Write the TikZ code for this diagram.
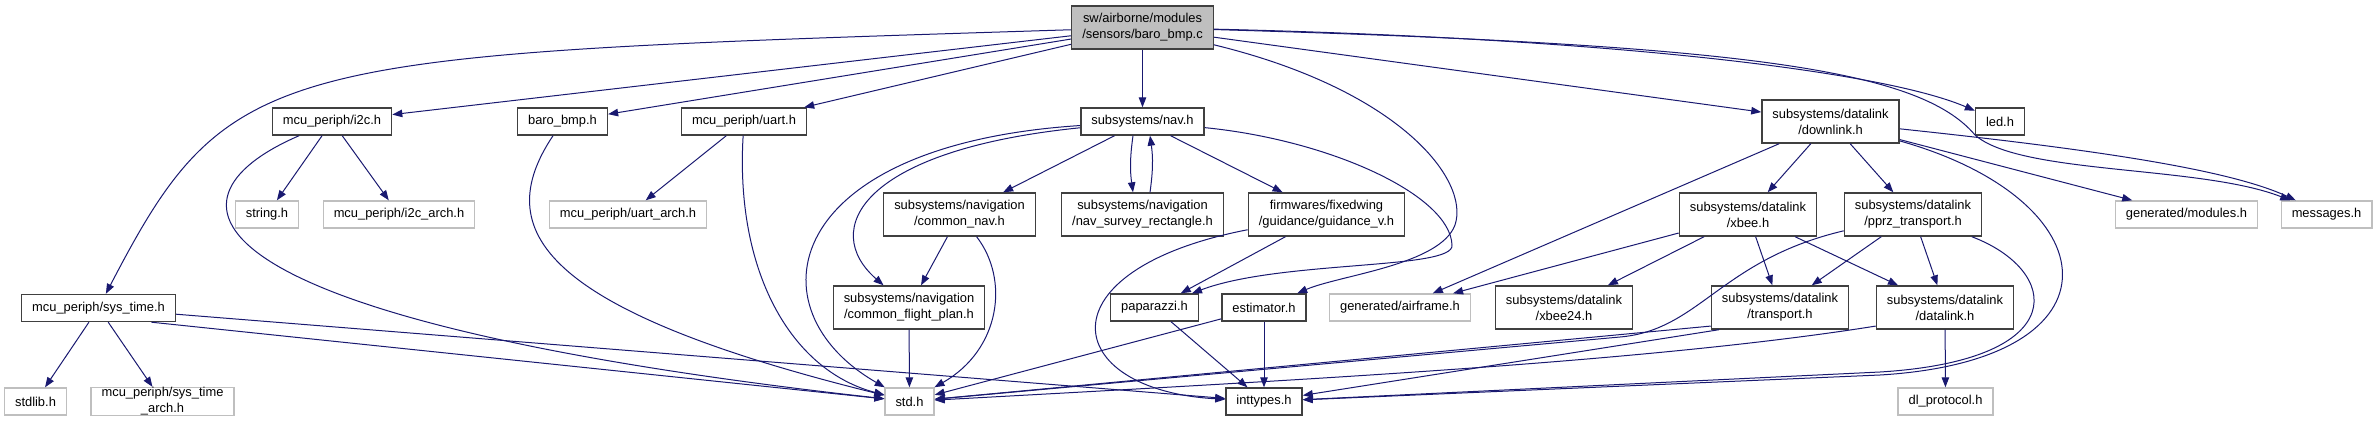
\documentclass[tikz,border=0pt]{standalone}
\usepackage{fontspec}
\setmainfont{Liberation Sans}
\usepackage{xcolor}
\usepackage{tikz}
\usetikzlibrary{arrows.meta}

\definecolor{edgeblue}{HTML}{191970}
\definecolor{boxgray}{HTML}{BFBFBF}
\definecolor{boxdark}{HTML}{404040}

\begin{document}
\begin{tikzpicture}[
    x=1pt, y=-1pt,
    box/.style={draw=boxdark, rectangle, line width=1.4pt, fill=white, inner xsep=10.5pt, inner ysep=0pt, minimum height=27pt, align=center, font=\fontsize{12.9}{16}\selectfont},
    twoline/.style={minimum height=43pt},
    ext/.style={box, draw=boxgray},
    src/.style={box, twoline, fill=boxgray},
    arrow/.style={-{Triangle[length=10pt, width=7.5pt]}, line width=1pt, draw=edgeblue}
]
\useasboundingbox (0,0) rectangle (2377,429);

% Source file
\node[src] (main) at (1142.5,27.5) {sw/airborne/modules\\/sensors/baro\_bmp.c};

% Row 1
\node[box] (i2c) at (332,121.5) {mcu\_periph/i2c.h};
\node[box] (baroh) at (562.5,121.5) {baro\_bmp.h};
\node[box] (uart) at (744,121.5) {mcu\_periph/uart.h};
\node[box] (nav) at (1142.5,121.5) {subsystems/nav.h};
\node[box, twoline] (dlk) at (1830.5,121.5) {subsystems/datalink\\/downlink.h};
\node[box] (led) at (2000,121.5) {led.h};

% Row 2
\node[ext] (string) at (267,214.5) {string.h};
\node[ext] (i2carch) at (399,214.5) {mcu\_periph/i2c\_arch.h};
\node[ext] (uartarch) at (628,214.5) {mcu\_periph/uart\_arch.h};
\node[box, twoline] (cnav) at (959.5,214.5) {subsystems/navigation\\/common\_nav.h};
\node[box, twoline] (nsr) at (1142.5,214.5) {subsystems/navigation\\/nav\_survey\_rectangle.h};
\node[box, twoline] (guid) at (1326.5,214.5) {firmwares/fixedwing\\/guidance/guidance\_v.h};
\node[box, twoline] (xbee) at (1748,214.5) {subsystems/datalink\\/xbee.h};
\node[box, twoline] (pprz) at (1913,214.5) {subsystems/datalink\\/pprz\_transport.h};
\node[ext] (modules) at (2186.5,214.5) {generated/modules.h};
\node[ext] (msgs) at (2326.5,214.5) {messages.h};

% Row 3
\node[box] (systime) at (98.5,308) {mcu\_periph/sys\_time.h};
\node[box, twoline] (cfp) at (909,307.5) {subsystems/navigation\\/common\_flight\_plan.h};
\node[box] (ppz) at (1154.5,307.5) {paparazzi.h};
\node[box] (est) at (1264,307.5) {estimator.h};
\node[ext] (airframe) at (1400,307.5) {generated/airframe.h};
\node[box, twoline] (xbee24) at (1564,307.5) {subsystems/datalink\\/xbee24.h};
\node[box, twoline] (transport) at (1780,307.5) {subsystems/datalink\\/transport.h};
\node[box, twoline] (dlink) at (1945,307.5) {subsystems/datalink\\/datalink.h};

% Row 4
\node[ext] (stdlib) at (35.5,401.5) {stdlib.h};
\node[ext] (starch) at (162.5,401.5) {mcu\_periph/sys\_time\\\_arch.h};
\node[ext] (stdh) at (909.5,401.5) {std.h};
\node[box] (inttypes) at (1264,401.5) {inttypes.h};
\node[ext] (dlproto) at (1945.5,401.5) {dl\_protocol.h};

% Includes of the source file
\draw[arrow] (main) .. controls (270,55) and (230,55) .. (systime);
\draw[arrow] (main) -- (i2c);
\draw[arrow] (main) -- (baroh);
\draw[arrow] (main) -- (uart);
\draw[arrow] (main) -- (nav);
\draw[arrow] (main) .. controls (1400,90) and (1470,180) .. (1455,225) .. controls (1440,265) and (1340,275) .. (est);
\draw[arrow] (main) -- (dlk);
\draw[arrow] (main) .. controls (1600,38) and (1880,70) .. (led);
\draw[arrow] (main) .. controls (1750,45) and (1920,70) .. (1975,135) .. controls (2020,175) and (2200,165) .. (msgs);

% Left branch
\draw[arrow] (i2c) -- (string);
\draw[arrow] (i2c) -- (i2carch);
\draw[arrow] (i2c) .. controls (150,200) and (180,320) .. (stdh);
\draw[arrow] (baroh) .. controls (490,230) and (540,310) .. (stdh);
\draw[arrow] (uart) -- (uartarch);
\draw[arrow] (uart) .. controls (735,270) and (790,370) .. (stdh);
\draw[arrow] (systime) -- (stdlib);
\draw[arrow] (systime) -- (starch);
\draw[arrow] (systime.-15) -- (stdh);
\draw[arrow] (systime) -- (inttypes);

% Navigation
\draw[arrow] (nav) -- (cnav);
\draw[arrow] ([xshift=-9.5pt]nav.south) to[bend right=8] ([xshift=-9.5pt]nsr.north);
\draw[arrow] ([xshift=7.5pt]nsr.north) to[bend right=8] ([xshift=7.5pt]nav.south);
\draw[arrow] (nav) -- (guid);
\draw[arrow] (nav) .. controls (1330,140) and (1450,195) .. (1452,245) .. controls (1455,270) and (1280,260) .. (ppz);
\draw[arrow] (nav) .. controls (780,145) and (750,310) .. (stdh);
\draw[arrow] (nav) .. controls (860,150) and (820,230) .. (cfp);
\draw[arrow] (cnav) -- (cfp);
\draw[arrow] (cnav) .. controls (1010,280) and (1000,350) .. (stdh);
\draw[arrow] (cfp) -- (stdh);
\draw[arrow] (guid) -- (ppz);
\draw[arrow] (guid) .. controls (1040,270) and (1060,390) .. (inttypes);
\draw[arrow] (ppz) -- (inttypes);
\draw[arrow] (est) -- (inttypes);
\draw[arrow] (est) -- (stdh);

% Datalink
\draw[arrow] (dlk) -- (airframe);
\draw[arrow] (dlk) -- (xbee);
\draw[arrow] (dlk) -- (pprz);
\draw[arrow] (dlk) -- (modules);
\draw[arrow] (dlk) .. controls (2100,150) and (2230,170) .. (msgs);
\draw[arrow] (dlk) .. controls (2110,200) and (2130,360) .. (1880,375) -- (inttypes);
\draw[arrow] (xbee) -- (airframe);
\draw[arrow] (xbee) -- (xbee24);
\draw[arrow] (xbee) -- (transport);
\draw[arrow] (xbee) -- (dlink);
\draw[arrow] (pprz) -- (transport);
\draw[arrow] (pprz) -- (dlink);
\draw[arrow] (pprz) .. controls (2060,270) and (2075,360) .. (1880,372) -- (inttypes);
\draw[arrow] (pprz) .. controls (1720,260) and (1700,330) .. (1620,337) -- (stdh);
\draw[arrow] (transport.-165) -- (stdh);
\draw[arrow] (transport.-160) -- (inttypes);
\draw[arrow] (dlink.-165) .. controls (1650,362) and (1300,380) .. (stdh);
\draw[arrow] (dlink) -- (dlproto);

\end{tikzpicture}
\end{document}
